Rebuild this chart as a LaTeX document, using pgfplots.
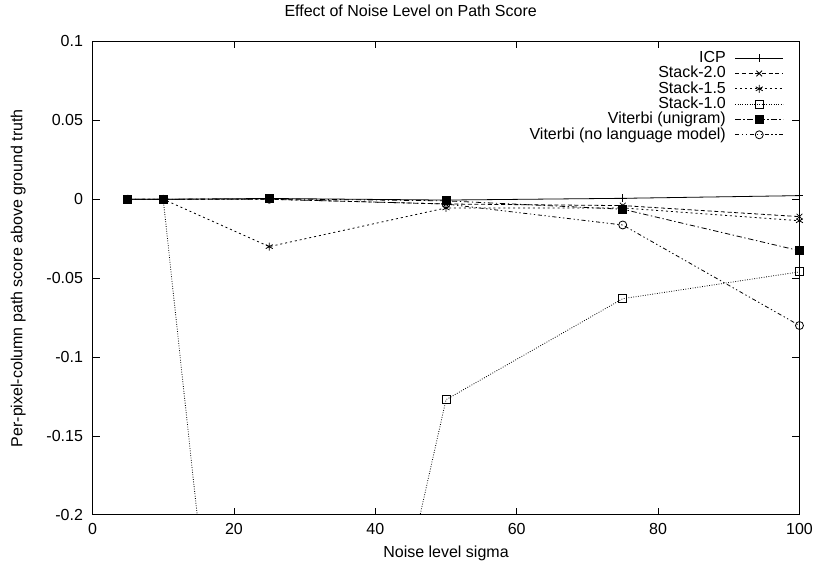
\documentclass[border=0pt]{standalone}
\usepackage{fontspec}
\setmainfont{Liberation Sans}
\usepackage{pgfplots}
\pgfplotsset{compat=1.18}
\begin{document}
\fontsize{12pt}{14pt}\selectfont
\begin{tikzpicture}
\begin{axis}[
 scale only axis, width=530.25pt, height=355.1pt,
 xmin=0, xmax=100, ymin=-0.2, ymax=0.1,
 xtick={0,20,40,60,80,100},
 xticklabels={0,20,40,60,80,100},
 ytick={-0.2,-0.15,-0.1,-0.05,0,0.05,0.1},
 yticklabels={-0.2,-0.15,-0.1,-0.05,0,0.05,0.1},
 xticklabel style={yshift=-2pt},
 yticklabel style={xshift=-3pt},
 major tick length=5.25pt,
 tick style={black, line width=0.6pt},
 axis line style={line width=0.75pt},
 title={Effect of Noise Level on Path Score},
 title style={at={(0.45,1.0475)}, anchor=center, yshift=0pt},
 xlabel={Noise level sigma},
 xlabel style={at={(0.5,-0.082)}, anchor=center},
 ylabel={Per-pixel-column path score above ground truth},
 ylabel style={at={(-0.105,0.5)}, anchor=center},
 legend plot pos=right,
 legend cell align=right,
 legend style={draw=none, fill=none, at={(0.978,0.9815)}, anchor=north east,
   inner sep=0pt, column sep=6.75pt,
   nodes={inner sep=0pt, text height=9pt, text depth=2.5pt}},
 legend image code/.code={\draw[mark repeat=2,mark phase=2] plot coordinates {(0pt,0pt) (18pt,0pt) (36pt,0pt)};},
 every axis plot/.append style={black, line width=0.6pt, mark size=3pt, mark options={solid}},
]
\addplot[mark=+] coordinates {(5,0) (10,0) (25,0.0005) (50,-0.0005) (75,0.0006) (100,0.0023)};
\addlegendentry{ICP}
\addplot[mark=x, dash pattern=on 3pt off 2pt] coordinates {(5,0) (10,0) (25,0) (50,-0.003) (75,-0.004) (100,-0.011)};
\addlegendentry{Stack-2.0}
\addplot[mark=asterisk, dash pattern=on 1.5pt off 2.2pt] coordinates {(5,0) (10,0) (25,-0.030) (50,-0.0055) (75,-0.0055) (100,-0.0136)};
\addlegendentry{Stack-1.5}
\addplot[mark=square, dash pattern=on 0.6pt off 1.2pt] coordinates {(5,0) (10,0) (25,-0.625) (50,-0.127) (75,-0.063) (100,-0.046)};
\addlegendentry{Stack-1.0}
\addplot[mark=square*, dash pattern=on 4pt off 2pt on 1pt off 2pt] coordinates {(5,0) (10,0) (25,0.0003) (50,-0.001) (75,-0.0063) (100,-0.0326)};
\addlegendentry{Viterbi (unigram)}
\addplot[mark=o, dash pattern=on 3pt off 2pt on 1pt off 2pt on 1pt off 2pt] coordinates {(5,0) (10,0) (25,0) (50,-0.003) (75,-0.0163) (100,-0.080)};
\addlegendentry{Viterbi (no language model)}
\end{axis}
\pgfresetboundingbox
\path[use as bounding box] ([xshift=-69.4pt,yshift=-36.75pt]current axis.south west) rectangle ([xshift=12.4pt,yshift=31.1pt]current axis.north east);
\end{tikzpicture}
\end{document}
